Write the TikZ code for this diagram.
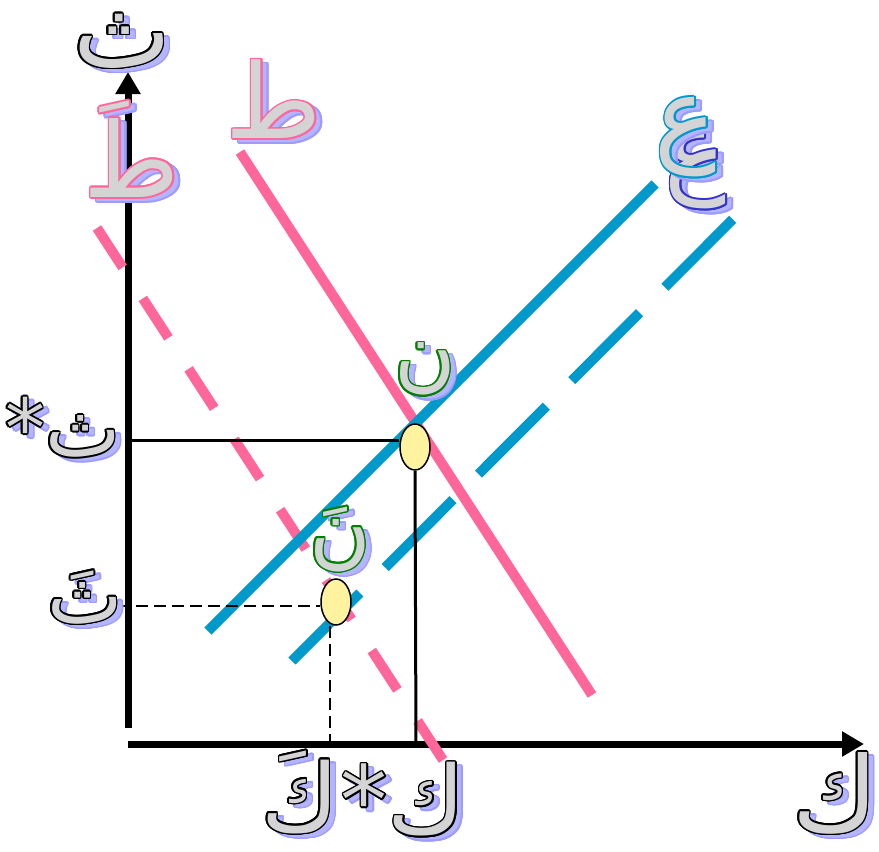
\documentclass[tikz,border=0pt]{standalone}
\usepackage{fontspec}
\usepackage[copies]{contour}
\usetikzlibrary{arrows.meta,shapes.geometric}
\TeXXeTstate=1
\newfontfamily\arabicfont[Script=Arabic]{DejaVu Sans}
\definecolor{pinkc}{HTML}{FF6699}
\definecolor{bluec}{HTML}{0099CC}
\definecolor{dblue}{HTML}{3333CC}
\definecolor{greenc}{HTML}{008000}
\definecolor{shadowc}{HTML}{B4B4FF}
\definecolor{shadowo}{HTML}{9C9CFF}
\definecolor{fillg}{HTML}{D4D4D4}
\definecolor{ovalc}{HTML}{FFF3A0}
\contourlength{1.6pt}
\contournumber{16}
\newcommand\artext[2]{\textcolor{fillg}{\contour{#1}{\arabicfont\beginR #2\endR}}}
\newcommand\arshadow[1]{\textcolor{shadowc}{\contour{shadowo}{\arabicfont\beginR #1\endR}}}
\tikzset{
  lab/.style={inner sep=0pt, font=\fontsize{104}{110}\selectfont},
  labbot/.style={inner sep=0pt, font=\fontsize{94}{100}\selectfont},
  lableft/.style={inner sep=0pt, font=\fontsize{80}{86}\selectfont},
  labsm/.style={inner sep=0pt, font=\fontsize{84}{90}\selectfont},
  axis/.style={line width=7pt, -{Triangle[length=22pt,width=24pt]}},
  curve/.style={line width=10pt},
  guide/.style={line width=3pt},
  guided/.style={line width=2pt, dash pattern=on 12pt off 6pt},
  oval/.style={ellipse, draw, line width=1.5pt, fill=ovalc, minimum width=30pt, minimum height=46pt, inner sep=0pt},
}
\begin{document}
\begin{tikzpicture}[x=1pt,y=-1pt]
\useasboundingbox (0,0) rectangle (879,852);
% axes
\coordinate (yb) at (128,728);
\coordinate (yt) at (128,72);
\coordinate (xl) at (128,744);
\coordinate (xr) at (864,744);
\draw[axis] (yb) -- (yt);
\draw[axis] (xl) -- (xr);
% curves
\coordinate (d1a) at (240,152);
\coordinate (d1b) at (592,695);
\coordinate (d2a) at (97,228);
\coordinate (d2b) at (443,760);
\coordinate (s1a) at (208,631);
\coordinate (s1b) at (655,184);
\coordinate (s2a) at (292,661);
\coordinate (s2b) at (733,219);
\draw[curve, pinkc] (d1a) -- (d1b);
\draw[curve, pinkc, dash pattern=on 47pt off 37pt] (d2a) -- (d2b);
\draw[curve, bluec] (s1a) -- (s1b);
\draw[curve, bluec, dash pattern=on 96pt off 36pt] (s2a) -- (s2b);
% equilibrium points
\node[oval] (e1) at (415,447) {};
\node[oval] (e2) at (336,602) {};
\coordinate (p1) at (128,440);
\coordinate (q1) at (416,744);
\coordinate (p2) at (118,606);
\coordinate (q2) at (330,744);
\draw[guide] (p1) -- (e1.west |- p1);
\draw[guide] (e1.south) -- (q1);
\draw[guided] (p2) -- (e2.west |- p2);
\draw[guided] (e2.south -| q2) -- (q2);
% labels
\node[lab] (lyS) at (128,46) {\arshadow{ث}};
\node[lab] (ly) at (122,42) {\artext{black}{ث}};
\node[lab] (lxS) at (841,798) {\arshadow{ك}};
\node[lab] (lx) at (835,794) {\artext{black}{ك}};
\node[lableft] (lpsS) at (69,432) {\arshadow{ث*}};
\node[lableft] (lps) at (63,428) {\artext{black}{ث*}};
\node[lableft] (lp2S) at (91,602) {\arshadow{ثَ}};
\node[lableft] (lp2) at (85,598) {\artext{black}{ثَ}};
\node[labbot] (lq2S) at (306,797) {\arshadow{كَ}};
\node[labbot] (lq2) at (300,793) {\artext{black}{كَ}};
\node[labbot] (lqsS) at (409,804) {\arshadow{ك*}};
\node[labbot] (lqs) at (403,800) {\artext{black}{ك*}};
\node[lab] (ld1S) at (280,104) {\arshadow{ط}};
\node[lab] (ld1) at (274,100) {\artext{pinkc}{ط}};
\node[lab] (ld2S) at (138,154) {\arshadow{طَ}};
\node[lab] (ld2) at (132,150) {\artext{pinkc}{طَ}};
\node[lab] (ls2S) at (702,174) {\arshadow{ع}};
\node[lab] (ls2) at (696,170) {\artext{dblue}{ع}};
\node[lab] (ls1S) at (692,142) {\arshadow{ع}};
\node[lab] (ls1) at (686,138) {\artext{bluec}{ع}};
\node[labsm] (le1S) at (431,374) {\arshadow{ن}};
\node[labsm] (le1) at (425,370) {\artext{greenc}{ن}};
\node[labsm] (le2S) at (346,544) {\arshadow{نَ}};
\node[labsm] (le2) at (340,540) {\artext{greenc}{نَ}};
\end{tikzpicture}
\end{document}
